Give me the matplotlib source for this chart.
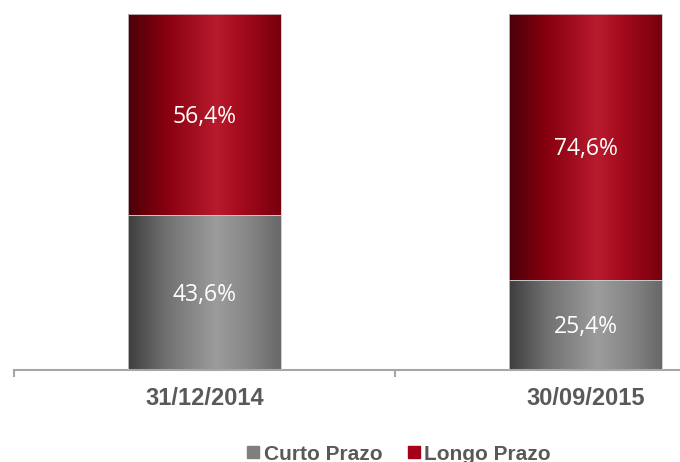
import matplotlib.pyplot as plt
import numpy as np
from matplotlib.colors import LinearSegmentedColormap
from matplotlib.lines import Line2D

# data
datas = ["31/12/2014", "30/09/2015"]
curto = [43.6, 25.4]
longo = [56.4, 74.6]
labels = ["Curto Prazo", "Longo Prazo"]

red_cmap = LinearSegmentedColormap.from_list(
    "red", [(0, "#4a0008"), (0.25, "#880010"), (0.58, "#b81b2d"), (0.75, "#a30a1c"), (1, "#78000e")])
gray_cmap = LinearSegmentedColormap.from_list(
    "gray", [(0, "#3e3e3e"), (0.25, "#717171"), (0.58, "#9c9c9c"), (0.8, "#858585"), (1, "#686868")])

fig = plt.figure(figsize=(6.8, 4.62), dpi=100)
ax = fig.add_axes([14 / 680, 92 / 462, 762 / 680, 356 / 462])

x = np.arange(len(datas))
w = 0.4
grad = np.linspace(0, 1, 256).reshape(1, -1)


def gradient_bars(bottoms, heights, cmap):
    bars = ax.bar(x, heights, w, bottom=bottoms, color="none", edgecolor="#c8c8c8", linewidth=0.6, zorder=3)
    for b in bars:
        x0, y0 = b.get_x(), b.get_y()
        im = ax.imshow(grad, extent=[x0, x0 + b.get_width(), y0, y0 + b.get_height()],
                       aspect="auto", cmap=cmap, zorder=2)
        im.set_clip_path(b)
    return bars


gradient_bars([0] * len(curto), curto, gray_cmap)
gradient_bars(curto, longo, red_cmap)

for i in range(len(datas)):
    ax.text(x[i], curto[i] / 2 - 0.6, f"{curto[i]:.1f}%".replace(".", ","), ha="center", va="center",
            color="white", fontsize=16.5, family="Open Sans", zorder=4)
    ax.text(x[i], curto[i] + longo[i] / 2 - 0.6, f"{longo[i]:.1f}%".replace(".", ","), ha="center",
            va="center", color="white", fontsize=16.5, family="Open Sans", zorder=4)

ax.set_xlim(-0.5, 1.5)
ax.set_ylim(0, 100)
for s in ["top", "right", "left"]:
    ax.spines[s].set_visible(False)
ax.spines["bottom"].set_color("#a6a6a6")
ax.spines["bottom"].set_linewidth(1.5)
ax.set_yticks([])
ax.set_xticks(x)
ax.set_xticklabels(datas, fontsize=17, fontweight="bold", color="#595959", family="Liberation Sans")
ax.tick_params(axis="x", which="major", length=0, pad=12)
ax.set_xticks([-0.5, 0.5, 1.5], minor=True)
ax.tick_params(axis="x", which="minor", length=5, width=1.5, color="#a6a6a6")

handles = [Line2D([], [], marker="s", linestyle="none", markersize=8.5, color="#7f7f7f"),
           Line2D([], [], marker="s", linestyle="none", markersize=8.5, color="#a50018")]
fig.legend(handles, labels, loc="center", bbox_to_anchor=(0.585, 8 / 462), ncol=2, frameon=False,
           handletextpad=0.1, columnspacing=1.1, handlelength=0.8,
           prop={"family": "Liberation Sans", "weight": "bold", "size": 15}, labelcolor="#595959")

fig.savefig("out.png", dpi=100, facecolor="white")
